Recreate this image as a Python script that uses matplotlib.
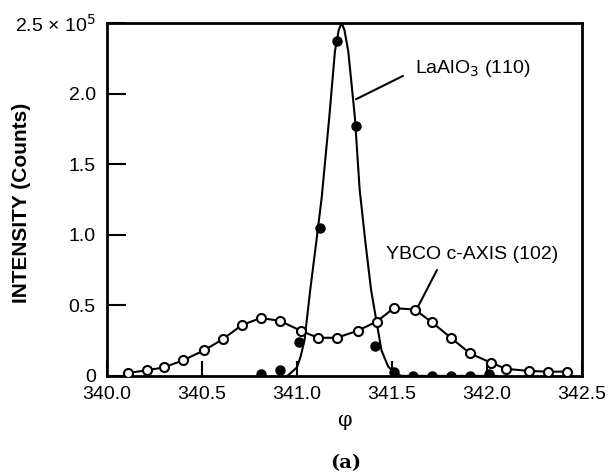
import matplotlib
matplotlib.use("Agg")
from matplotlib import pyplot as plt

plt.rcParams["font.family"] = ["Liberation Sans", "DejaVu Sans"]

# YBCO c-axis (102) phi scan, open circles (units of 1e5 counts)
ybco_phi = [340.11, 340.21, 340.30, 340.40, 340.51, 340.61, 340.71, 340.81,
            340.91, 341.02, 341.11, 341.21, 341.32, 341.42, 341.51, 341.62,
            341.71, 341.81, 341.91, 342.02, 342.10, 342.22, 342.32, 342.42]
ybco_int = [0.02, 0.04, 0.06, 0.11, 0.18, 0.26, 0.36, 0.41,
            0.39, 0.32, 0.27, 0.27, 0.32, 0.385, 0.48, 0.47,
            0.38, 0.27, 0.16, 0.094, 0.05, 0.035, 0.03, 0.03]

# LaAlO3 (110) measured points, filled circles
lao_phi = [340.81, 340.91, 341.01, 341.12, 341.21, 341.31, 341.41,
           341.51, 341.61, 341.71, 341.81, 341.91, 342.01]
lao_int = [0.01, 0.04, 0.24, 1.05, 2.375, 1.77, 0.21,
           0.03, 0.0, 0.0, 0.0, 0.0, 0.01]

# LaAlO3 fitted curve
lao_fit_phi = [340.95, 341.00, 341.02, 341.04, 341.07, 341.10, 341.13, 341.17,
               341.20, 341.22, 341.235, 341.25, 341.27, 341.305, 341.33, 341.36,
               341.39, 341.42, 341.445, 341.48, 341.516, 341.55, 342.05]
lao_fit_int = [0.0, 0.06, 0.14, 0.255, 0.61, 0.93, 1.26, 1.83,
               2.30, 2.45, 2.50, 2.45, 2.30, 1.83, 1.32, 0.95,
               0.61, 0.375, 0.18, 0.066, 0.02, 0.0, 0.0]

y_ticks = [0, 0.5, 1.0, 1.5, 2.0, 2.5]
y_labels = ["0", "0.5", "1.0", "1.5", "2.0", "2.5 \u00d7 10$^5$"]
x_ticks = [340.0, 340.5, 341.0, 341.5, 342.0, 342.5]
x_labels = ["340.0", "340.5", "341.0", "341.5", "342.0", "342.5"]

fig = plt.figure(figsize=(6.11, 4.74), dpi=100)
ax = fig.add_axes([0.175, 0.207, 0.7775, 0.7445])

# 曲线
ax.plot(ybco_phi, ybco_int, color="black", lw=1.5, zorder=2)
ax.plot(lao_fit_phi, lao_fit_int, color="black", lw=1.5, zorder=2)
ax.plot(lao_phi, lao_int, "o", color="black", ms=6.5, zorder=3)
ax.plot(ybco_phi, ybco_int, "o", mfc="white", mec="black", mew=1.5, ms=6.5, zorder=4)

ax.set_xlim(340.0, 342.5)
ax.set_ylim(0, 2.5)
ax.set_xticks(x_ticks, x_labels, fontsize=14)
ax.set_yticks(y_ticks, y_labels, fontsize=14)
ax.tick_params(direction="in", width=1.5)
ax.tick_params(axis="y", length=14, pad=8)
ax.tick_params(axis="x", length=11, pad=7)
for s in ax.spines.values():
    s.set_linewidth(2)

fig.text(22 / 611, 1 - 203 / 474, "INTENSITY (Counts)", fontsize=15,
         fontweight="bold", rotation=90, ha="center", va="center")
ax.set_xlabel("\u03c6", fontsize=15, family=["DejaVu Serif"], labelpad=6)
fig.text(0.566, 1 - 463 / 474, "(a)", fontsize=14, fontweight="bold",
         ha="center", va="center", family=["DejaVu Serif"])

# 标注
ax.text(341.62, 2.18, "LaAlO$_3$ (110)", fontsize=14, va="center")
ax.annotate("", xy=(341.311, 1.96), xytext=(341.558, 2.125),
            arrowprops=dict(arrowstyle="-", lw=1.5, shrinkA=0, shrinkB=0))
ax.text(341.468, 0.857, "YBCO c-AXIS (102)", fontsize=14, va="center")
ax.annotate("", xy=(341.637, 0.49), xytext=(341.737, 0.75),
            arrowprops=dict(arrowstyle="-", lw=1.5, shrinkA=0, shrinkB=0))

plt.savefig("out.png", dpi=100)
plt.close()
